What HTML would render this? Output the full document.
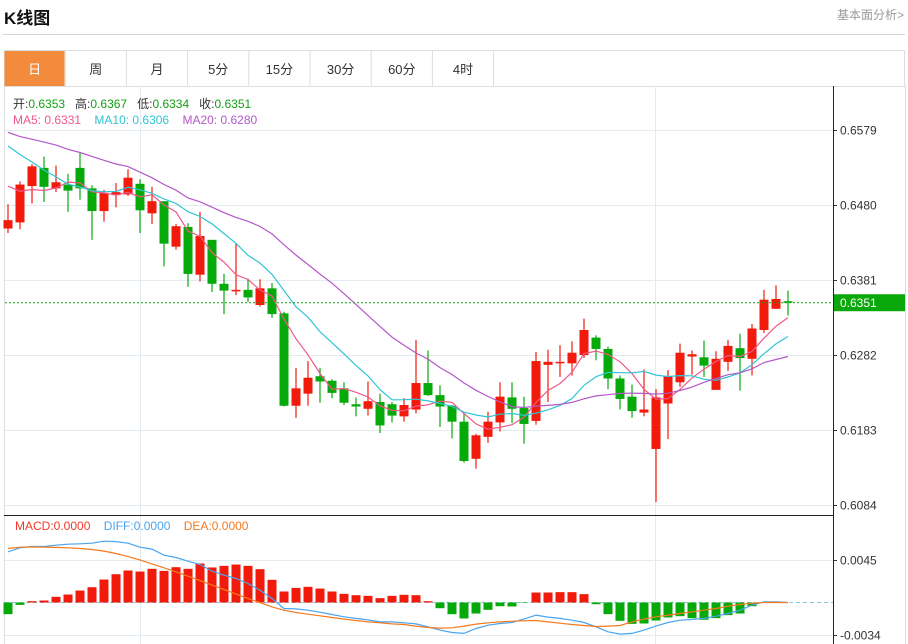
<!DOCTYPE html>
<html><head><meta charset="utf-8">
<style>
body{margin:0;width:908px;height:644px;background:#fff;overflow:hidden;font-family:"Liberation Sans","Noto Sans CJK SC",sans-serif;position:relative}
.t{position:absolute;white-space:nowrap}
</style></head><body>
<div class="t" style="left:4px;top:4px;font-size:17px;font-weight:bold;color:#111">K线图</div>
<div class="t" style="right:4px;top:6px;font-size:12px;color:#999">基本面分析&gt;</div>
<div style="position:absolute;left:3px;top:34px;width:902px;height:1px;background:#d4d4d4"></div>
<svg id="c" width="908" height="644" style="position:absolute;left:0;top:0"></svg>
<div class="t" style="left:13px;top:95px;font-size:12px;color:#333">开:<span style="color:#13a113">0.6353</span>&nbsp;&nbsp; 高:<span style="color:#13a113">0.6367</span>&nbsp;&nbsp; 低:<span style="color:#13a113">0.6334</span>&nbsp;&nbsp; 收:<span style="color:#13a113">0.6351</span></div>
<div class="t" style="left:13px;top:113px;font-size:12px"><span style="color:#f0588a">MA5: 0.6331</span>&nbsp;&nbsp;&nbsp; <span style="color:#2fc5d6">MA10: 0.6306</span>&nbsp;&nbsp;&nbsp; <span style="color:#b458c8">MA20: 0.6280</span></div>
<div class="t" style="left:15px;top:519px;font-size:12px"><span style="color:#f03a2a">MACD:0.0000</span>&nbsp;&nbsp;&nbsp; <span style="color:#4aa4f0">DIFF:0.0000</span>&nbsp;&nbsp;&nbsp; <span style="color:#f57a1e">DEA:0.0000</span></div>
<script>
const opens=[.6449,.6457,.6505,.6529,.6502,.6507,.6529,.6502,.6472,.6493,.6494,.6508,.6469,.6485,.6425,.6451,.6388,.6434,.6376,.6366,.6368,.6348,.6370,.6337,.6215,.6231,.6254,.6248,.6238,.6217,.6211,.6220,.6217,.6201,.6210,.6245,.6229,.6215,.6194,.6145,.6174,.6193,.6226,.6212,.6195,.6269,.6271,.6271,.6282,.6305,.6290,.6251,.6227,.6206,.6158,.6218,.6246,.6280,.6279,.6236,.6273,.6291,.6277,.6315,.6343,.6353];
const highs=[.6481,.6511,.6534,.6544,.6532,.6521,.6549,.6506,.6500,.6509,.6527,.6514,.6504,.6485,.6455,.6456,.6471,.6434,.6389,.6429,.6383,.6382,.6377,.6339,.6265,.6274,.6265,.6250,.6246,.6226,.6247,.6231,.6220,.6225,.6302,.6288,.6242,.6216,.6205,.6178,.6207,.6246,.6246,.6227,.6286,.6289,.6295,.6300,.6330,.6308,.6293,.6255,.6243,.6263,.6237,.6262,.6297,.6288,.6301,.6287,.6302,.6310,.6323,.6368,.6374,.6367];
const lows=[.6443,.6448,.6482,.6484,.6497,.6471,.6487,.6434,.6458,.6477,.6492,.6443,.6455,.6399,.6421,.6372,.6379,.6365,.6336,.6361,.6352,.6346,.6331,.6214,.6199,.6215,.6219,.6225,.6216,.6201,.6202,.6179,.6193,.6194,.6205,.6228,.6187,.6172,.6140,.6132,.6166,.6181,.6192,.6165,.6190,.6220,.6253,.6255,.6278,.6275,.6237,.6210,.6199,.6201,.6088,.6171,.6240,.6256,.6253,.6236,.6261,.6235,.6255,.6311,.6343,.6334];
const closes=[.6460,.6507,.6531,.6504,.6510,.6499,.6502,.6472,.6496,.6497,.6516,.6473,.6485,.6429,.6452,.6389,.6439,.6376,.6367,.6368,.6358,.6370,.6336,.6215,.6238,.6252,.6247,.6232,.6219,.6214,.6221,.6189,.6202,.6216,.6245,.6229,.6214,.6194,.6142,.6176,.6194,.6227,.6211,.6191,.6274,.6273,.6273,.6285,.6315,.6290,.6251,.6224,.6208,.6210,.6226,.6254,.6285,.6283,.6268,.6277,.6294,.6278,.6317,.6355,.6356,.6351];
const prevCloses=[.6620,.6600,.6580,.6590,.6610,.6585,.6575,.6600,.6595,.6585,.6620,.6630,.6610,.6600,.6595,.6540,.6520,.6510,.6494];
const macdHist=[-.00123,-.00025,.00014,.00021,.0006,.00084,.00126,.00161,.00242,.00298,.00337,.00326,.00355,.00333,.00372,.00355,.00411,.00369,.00386,.004,.00386,.00351,.00239,.00116,.00154,.00165,.00147,.00116,.00091,.00077,.0007,.00046,.0007,.00081,.00077,.00014,-.0006,-.00123,-.00168,-.00116,-.00077,-.00039,-.00042,-.00004,.00105,.00105,.00109,.00109,.00088,-.00018,-.00123,-.00193,-.00225,-.00221,-.0019,-.00158,-.00144,-.00165,-.00182,-.00165,-.00133,-.00116,-.00039,-.00004,0,0];
const diffVals=[.00534,.00576,.0059,.0059,.00604,.00614,.00618,.00625,.00646,.00642,.00625,.00583,.00562,.00498,.00474,.00435,.004,.0033,.00288,.00253,.002,.0013,.00042,-.00063,-.00067,-.00081,-.00102,-.00126,-.00151,-.00168,-.00183,-.00204,-.00204,-.00214,-.00225,-.00256,-.00291,-.00316,-.00326,-.00274,-.00239,-.00221,-.00211,-.00175,-.00133,-.00154,-.00168,-.00186,-.00211,-.00256,-.00309,-.00333,-.00326,-.00291,-.00249,-.00211,-.00186,-.00179,-.00168,-.00144,-.00116,-.00081,-.00028,.00007,.00007,0];
const deaVals=[.00569,.00583,.00586,.00583,.0058,.00576,.00569,.00558,.00541,.00516,.00484,.00449,.00407,.00365,.00323,.00277,.00232,.00183,.00137,.00088,.00042,0,-.00046,-.00081,-.00105,-.00123,-.0014,-.00158,-.00175,-.0019,-.00204,-.00214,-.00225,-.00232,-.00249,-.00263,-.0027,-.00267,-.00249,-.00228,-.00214,-.00204,-.00197,-.00193,-.0019,-.00204,-.00218,-.00232,-.00242,-.00253,-.00249,-.00242,-.00204,-.00175,-.00151,-.00133,-.00116,-.00098,-.00081,-.00063,-.00039,-.00021,-.00007,0,0,0];
const priceTicks=[0.6579,0.6480,0.6381,0.6282,0.6183,0.6084];
const macdTicks=[0.0045,-0.0034];
const tabLabels=["日","周","月","5分","15分","30分","60分","4时"];

const NS="http://www.w3.org/2000/svg";
const svg=document.getElementById('c');
function mk(tag,attrs,parent){const e=document.createElementNS(NS,tag);for(const k in attrs)e.setAttribute(k,attrs[k]);(parent||svg).appendChild(e);return e;}
const yP=p=>130+(0.6579-p)*(75/0.0099);
const yM=v=>602.5-v*(75/0.0079);
const xI=i=>8+12*i;

// tabs
mk('rect',{x:4.5,y:50.5,width:900,height:36,fill:'#fff',stroke:'#ddd'});
tabLabels.forEach((l,i)=>{
  const x=4+i*61.2;
  const g=mk('g',{});
  
  
  if(i===0)mk('rect',{x:x+0.5,y:51,width:60,height:35,fill:'#f28c3c'},g);
  mk('line',{x1:x+61.2,y1:51,x2:x+61.2,y2:86,stroke:'#ddd'},g);
  const t=mk('text',{x:x+30.6,y:74,'text-anchor':'middle','font-size':13,fill:i===0?'#fff':'#333'},g);t.textContent=l;
});
// frame
mk('line',{x1:4.5,y1:86,x2:4.5,y2:644,stroke:'#ddd'});
mk('line',{x1:905.5,y1:86,x2:905.5,y2:644,stroke:'#ddd'});
[140,655].forEach(x=>mk('line',{x1:x+.5,y1:86,x2:x+.5,y2:644,stroke:'#e3eaf0'}));
// price grid
priceTicks.forEach(p=>{
  const y=Math.round(yP(p))+.5;
  mk('line',{x1:5,y1:y,x2:833,y2:y,stroke:'#e3eaf0'});
  mk('line',{x1:833,y1:y,x2:837,y2:y,stroke:'#333'});
  const t=mk('text',{x:840,y:y+4,'font-size':12,fill:'#333'});t.textContent=p.toFixed(4);
  
  
});
// MACD panel grid
mk('line',{x1:4,y1:515.5,x2:834,y2:515.5,stroke:'#222'});
macdTicks.forEach(v=>{
  const y=Math.round(yM(v))+.5;
  mk('line',{x1:5,y1:y,x2:833,y2:y,stroke:'#e3eaf0'});
  mk('line',{x1:833,y1:y,x2:837,y2:y,stroke:'#333'});
  const t=mk('text',{x:840,y:y+4,'font-size':12,fill:'#333'});t.textContent=v.toFixed(4);
  
  
});
mk('line',{x1:5,y1:yM(0),x2:833,y2:yM(0),stroke:'#8cc4d8','stroke-dasharray':'4,3'});
mk('line',{x1:833.5,y1:86,x2:833.5,y2:644,stroke:'#222'});
// candles
closes.forEach((c,i)=>{
  const o=opens[i],up=c>=o,col=up?'#f21a0a':'#06a90a';
  const g=mk('g',{});
  
  
  const x=xI(i);
  mk('line',{x1:x,y1:yP(highs[i]),x2:x,y2:yP(lows[i]),stroke:col,'stroke-width':1.2},g);
  const t=yP(Math.max(o,c)),b=yP(Math.min(o,c));
  mk('rect',{x:x-4.5,y:t,width:9,height:Math.max(1.5,b-t),fill:col},g);
});
// MAs
const all=prevCloses.concat(closes);
function ma(n){return closes.map((_,i)=>{const j=i+prevCloses.length;let s=0;for(let k=j-n+1;k<=j;k++)s+=all[k];return s/n;});}
[[5,'#f0588a'],[10,'#2fc5d6'],[20,'#b458c8']].forEach(([n,col])=>{
  const m=ma(n);
  const pl=mk('polyline',{points:m.map((v,i)=>xI(i)+','+yP(v).toFixed(1)).join(' '),fill:'none',stroke:col,'stroke-width':1.2});
  
  
});
// last price
const lp=closes[closes.length-1];
mk('line',{x1:5,y1:yP(lp),x2:833,y2:yP(lp),stroke:'#13a113','stroke-dasharray':'2,2'});
const lb=mk('rect',{x:834,y:yP(lp)-8.5,width:71,height:17,fill:'#0ba80b'});


const lt=mk('text',{x:840,y:yP(lp)+4.5,'font-size':12,fill:'#fff'});lt.textContent=lp.toFixed(4);
// MACD hist
macdHist.forEach((v,i)=>{
  const r=mk('rect',{x:xI(i)-4.5,y:Math.min(yM(v),yM(0)),width:9,height:Math.abs(yM(v)-yM(0)),fill:v>=0?'#f21a0a':'#06a90a'});
  
  
});
[[diffVals,'#4aa4f0','diff-line'],[deaVals,'#f57a1e','dea-line']].forEach(([arr,col,nm])=>{
  const pl=mk('polyline',{points:arr.map((v,i)=>xI(i)+','+yM(v).toFixed(1)).join(' '),fill:'none',stroke:col,'stroke-width':1.2});
  
  
});
</script>
</body></html>
